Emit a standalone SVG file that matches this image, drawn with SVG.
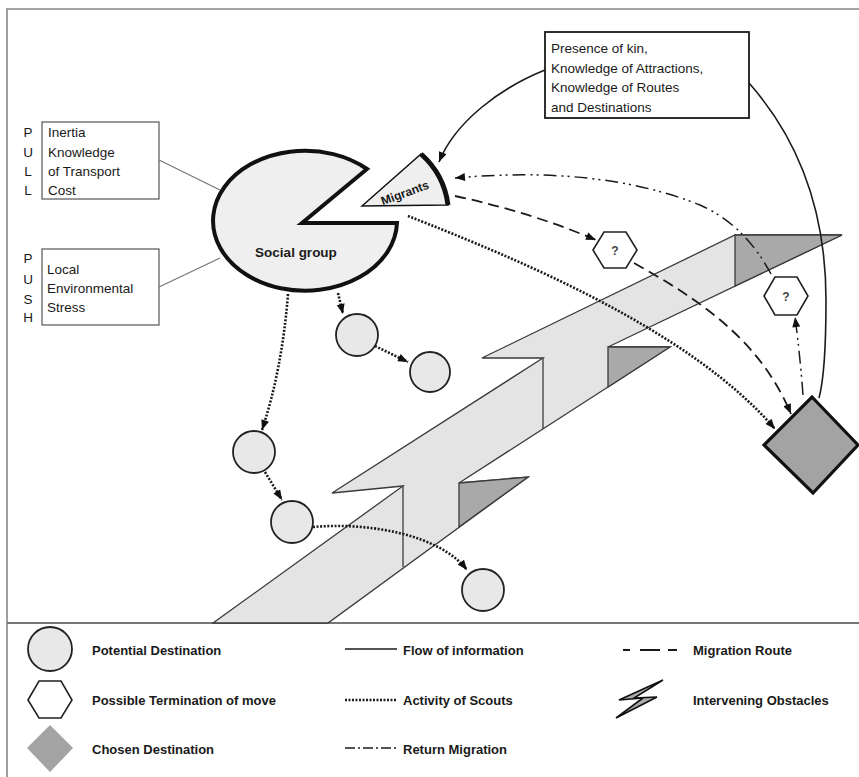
<svg xmlns="http://www.w3.org/2000/svg" width="859" height="777" viewBox="0 0 859 777">
<style>
text{font-family:"Liberation Sans",Arial,sans-serif;fill:#1a1a1a}
.t{font-size:13.5px}
.l{font-size:13px;font-weight:bold}
.frame{stroke:#888;stroke-width:1.6;fill:none}
.gbox{fill:#fff;stroke:#555;stroke-width:1.2}
.band{fill:#e4e4e4;stroke:#3a3a3a;stroke-width:1.3;stroke-linejoin:miter}
.dark{fill:#a9a9a9;stroke:#3a3a3a;stroke-width:1.3}
.edge{fill:none;stroke:#3a3a3a;stroke-width:1.3}
.circ{fill:#e8e8e8;stroke:#222;stroke-width:1.8}
.hex{fill:#fff;stroke:#222;stroke-width:1.6}
.info{fill:none;stroke:#1a1a1a;stroke-width:1.6}
.scout{fill:none;stroke:#1a1a1a;stroke-width:2.6;stroke-dasharray:2 1.6}
.route{fill:none;stroke:#1a1a1a;stroke-width:1.8;stroke-dasharray:11 6}
.ret{fill:none;stroke:#1a1a1a;stroke-width:1.5;stroke-dasharray:13 5 2 4 2 5}
.q{font-size:12px;font-weight:bold;fill:#444;text-anchor:middle}
</style>
<defs>
<marker id="ah" viewBox="0 0 10 8" refX="10" refY="4" markerWidth="11" markerHeight="8" markerUnits="userSpaceOnUse" orient="auto">
<path d="M0,0 L10,4 L0,8 z" fill="#111"/>
</marker>
</defs>
<rect width="859" height="777" fill="#fff"/>
<path class="frame" d="M7,777 L7,9 L859,9"/>
<line x1="7" y1="623" x2="859" y2="623" stroke="#777" stroke-width="2"/>

<g id="obstacle">
<polygon class="band" points="213,623 403,486 332,493 543,358 482,358 735,235 842,235 608,347 670,347 459,483 528,477 328,623"/>
<polygon class="dark" points="735,235 842,235 735,286"/>
<polygon class="dark" points="608,347 670,347 608,387"/>
<polygon class="dark" points="459,483 528,477 459,527"/>
<line class="edge" x1="543" y1="358" x2="543" y2="429"/>
<line class="edge" x1="403" y1="486" x2="403" y2="567"/>
</g>

<g id="pull">
<rect class="gbox" x="42" y="122" width="117" height="77"/>
<text class="t" x="28" y="137" text-anchor="middle">P</text>
<text class="t" x="28" y="157" text-anchor="middle">U</text>
<text class="t" x="28" y="176" text-anchor="middle">L</text>
<text class="t" x="28" y="195" text-anchor="middle">L</text>
<text class="t" x="48" y="137">Inertia</text>
<text class="t" x="48" y="157">Knowledge</text>
<text class="t" x="48" y="176">of Transport</text>
<text class="t" x="48" y="195">Cost</text>
</g>
<g id="push">
<rect class="gbox" x="42" y="249" width="117" height="76"/>
<text class="t" x="28" y="263" text-anchor="middle">P</text>
<text class="t" x="28" y="284" text-anchor="middle">U</text>
<text class="t" x="28" y="304" text-anchor="middle">S</text>
<text class="t" x="28" y="322" text-anchor="middle">H</text>
<text class="t" x="47" y="274">Local</text>
<text class="t" x="47" y="293">Environmental</text>
<text class="t" x="47" y="312">Stress</text>
</g>

<g id="social-group">
<path d="M302,223 L367,169 A92,70 0 1,0 397,223 Z" fill="#efefef" stroke="#111" stroke-width="4" stroke-linejoin="miter"/>
<text x="296" y="257" font-size="13.5" font-weight="bold" text-anchor="middle">Social group</text>
</g>

<g id="migrants">
<path d="M362,206 L421,154 A82,82 0 0,1 448,205 Z" fill="#efefef" stroke="#111" stroke-width="1.5"/>
<path d="M421,154 A82,82 0 0,1 448,205" fill="none" stroke="#111" stroke-width="5"/>
<text x="405" y="197" font-size="12" font-weight="bold" text-anchor="middle" transform="rotate(-20 405 193)">Migrants</text>
</g>

<g id="info-box">
<rect x="545" y="32" width="204" height="86" fill="#fff" stroke="#1a1a1a" stroke-width="1.8"/>
<text class="t" x="551" y="53">Presence of kin,</text>
<text class="t" x="551" y="73">Knowledge of Attractions,</text>
<text class="t" x="551" y="92">Knowledge of Routes</text>
<text class="t" x="551" y="112">and Destinations</text>
</g>

<g id="hex1">
<polygon class="hex" points="593,250 604,232 626,232 637,250 626,268 604,268"/>
<text class="q" x="615" y="255">?</text>
</g>
<g id="hex2">
<polygon class="hex" points="764,296 775,277 797,277 808,296 797,315 775,315"/>
<text class="q" x="786" y="301">?</text>
</g>

<g id="circle-a"><circle class="circ" cx="254" cy="452" r="21"/></g>
<g id="circle-b"><circle class="circ" cx="357" cy="335" r="21"/></g>
<g id="circle-c"><circle class="circ" cx="430" cy="372" r="20"/></g>
<g id="circle-d"><circle class="circ" cx="292" cy="522" r="21"/></g>
<g id="circle-e"><circle class="circ" cx="483" cy="590" r="21"/></g>

<g id="chosen-destination">
<polygon points="812,397 858,445 813,493 764,445" fill="#a3a3a3" stroke="#111" stroke-width="3.2" stroke-linejoin="miter"/>
</g>

<g id="connectors">
<line x1="159" y1="160" x2="220" y2="190" stroke="#777" stroke-width="1.3"/>
<line x1="159" y1="287" x2="220" y2="258" stroke="#777" stroke-width="1.3"/>
<path class="info" d="M545,70 C500,88 455,122 439,162" marker-end="url(#ah)"/>
<path class="info" d="M749,83 Q826,170 826,300 Q826,372 819,398"/>
<path class="scout" d="M408,216 C520,260 690,330 775,429" marker-end="url(#ah)"/>
<path class="scout" d="M288,294 Q282,370 262,430" marker-end="url(#ah)"/>
<path class="scout" d="M338,293 L343,314" marker-end="url(#ah)"/>
<path class="scout" d="M375,346 L408,362" marker-end="url(#ah)"/>
<path class="scout" d="M265,472 L282,500" marker-end="url(#ah)"/>
<path class="scout" d="M313,527 C370,522 440,535 467,570" marker-end="url(#ah)"/>
<path class="route" d="M455,196 Q530,212 596,240" marker-end="url(#ah)"/>
<path class="route" d="M634,263 C700,300 760,340 791,414" marker-end="url(#ah)"/>
<path class="ret" d="M803,395 Q800,355 795,317" marker-end="url(#ah)"/>
<path class="ret" d="M771,274 Q745,225 700,205 Q600,165 455,178" marker-end="url(#ah)"/>
</g>

<g id="legend">
<circle class="circ" cx="50" cy="649" r="22"/>
<text class="l" x="92" y="655">Potential Destination</text>
<polygon class="hex" points="28,700 39,681 61,681 72,700 61,718 39,718"/>
<text class="l" x="92" y="705">Possible Termination of move</text>
<polygon points="50,725 73,748 50,772 27,748" fill="#a3a3a3"/>
<text class="l" x="92" y="754">Chosen Destination</text>
<line x1="345" y1="649" x2="397" y2="649" stroke="#1a1a1a" stroke-width="1.6"/>
<text class="l" x="403" y="655">Flow of information</text>
<line x1="345" y1="700" x2="397" y2="700" stroke="#1a1a1a" stroke-width="2.4" stroke-dasharray="2 1.5"/>
<text class="l" x="403" y="705">Activity of Scouts</text>
<line x1="345" y1="748" x2="397" y2="748" stroke="#1a1a1a" stroke-width="1.6" stroke-dasharray="10 3 2 3"/>
<text class="l" x="403" y="754">Return Migration</text>
<path d="M623,650 L630,650 M640,650 L660,650 M668,650 L677,650" stroke="#1a1a1a" stroke-width="1.8" fill="none"/>
<text class="l" x="693" y="655">Migration Route</text>
<polygon points="663,680 619,700 643,698 616,718 657,697 634,698" fill="#aaa" stroke="#111" stroke-width="1.6" stroke-linejoin="miter"/>
<text class="l" x="693" y="705">Intervening Obstacles</text>
</g>
</svg>
